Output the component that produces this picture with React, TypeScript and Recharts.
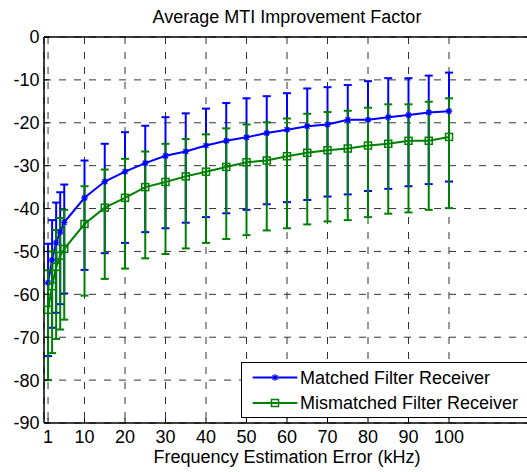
import React from 'react';
import { LineChart, Line, XAxis, YAxis, CartesianGrid, ErrorBar, Legend } from 'recharts';

// Frequency estimation error (kHz)
const freqKHz = [1, 2, 3, 4, 5, 10, 15, 20, 25, 30, 35, 40, 45, 50, 55, 60, 65, 70, 75, 80, 85, 90, 95, 100];

// Matched filter receiver: mean improvement factor (dB) and its error-bar bounds
const matchedMean = [-57.3, -52.0, -48.0, -45.5, -43.2, -37.5, -33.7, -31.4, -29.4, -27.7, -26.7, -25.3, -24.2, -23.4, -22.4, -21.6, -20.8, -20.4, -19.3, -19.3, -18.7, -18.2, -17.6, -17.3];
const matchedUpper = [-48.2, -42.7, -38.6, -36.2, -34.4, -28.8, -24.9, -22.2, -20.7, -18.7, -17.8, -16.7, -15.4, -14.3, -13.8, -13.1, -12.0, -11.7, -11.2, -10.3, -9.6, -9.6, -9.0, -8.3];
const matchedLower = [-74.4, -67.8, -64.3, -62.3, -59.8, -54.3, -50.4, -48.0, -45.5, -44.6, -43.3, -42.0, -41.1, -40.3, -39.0, -38.5, -38.0, -37.2, -36.7, -35.9, -35.4, -34.8, -34.3, -33.7];

// Mismatched filter receiver: mean improvement factor (dB) and its error-bar bounds
const mismatchedMean = [-63.6, -58.1, -53.6, -51.0, -49.4, -43.6, -39.8, -37.5, -35.0, -33.8, -32.5, -31.4, -30.3, -29.2, -28.8, -27.8, -27.0, -26.4, -26.0, -25.3, -24.9, -24.2, -24.2, -23.3];
const mismatchedUpper = [-54.4, -50.0, -45.0, -42.2, -40.3, -34.8, -30.9, -28.4, -26.7, -24.9, -23.8, -22.7, -21.3, -20.4, -19.9, -19.0, -17.9, -17.5, -17.2, -16.5, -15.7, -15.7, -15.1, -14.3];
const mismatchedLower = [-80.0, -73.7, -70.4, -68.2, -65.9, -60.3, -56.4, -54.0, -51.6, -50.6, -49.3, -48.0, -47.1, -46.2, -45.1, -44.6, -43.7, -43.0, -42.7, -42.0, -41.2, -40.9, -40.3, -39.9];

const xTicks = [1, 10, 20, 30, 40, 50, 60, 70, 80, 90, 100];
const yTicks = [-90, -80, -70, -60, -50, -40, -30, -20, -10, 0];

const seriesNames = ['Matched Filter Receiver', 'Mismatched Filter Receiver'];
const chartTitle = 'Average MTI Improvement Factor';
const xLabel = 'Frequency Estimation Error (kHz)';

const BLUE = '#0000ff';
const GREEN = '#008000';
const FONT = '"Liberation Sans", Arial, Helvetica, sans-serif';
const FS = 18;

const data = freqKHz.map((f, i) => ({
  f,
  matched: matchedMean[i],
  matchedErr: [matchedMean[i] - matchedLower[i], matchedUpper[i] - matchedMean[i]],
  mismatched: mismatchedMean[i],
  mismatchedErr: [mismatchedMean[i] - mismatchedLower[i], mismatchedUpper[i] - mismatchedMean[i]],
}));

const starPath = (cx: number, cy: number) => {
  const r = 3.3;
  const d = 2.4;
  return `M${cx - r},${cy}H${cx + r}M${cx},${cy - r}V${cy + r}M${cx - d},${cy - d}L${cx + d},${cy + d}M${cx - d},${cy + d}L${cx + d},${cy - d}`;
};

const StarDot = (props: any) => {
  const { cx, cy, index } = props;
  if (cx == null || cy == null) return <g key={`s-${index}`} />;
  return <path key={`s-${index}`} d={starPath(cx, cy)} stroke={BLUE} strokeWidth={1.3} fill="none" />;
};

const SquareDot = (props: any) => {
  const { cx, cy, index } = props;
  if (cx == null || cy == null) return <g key={`q-${index}`} />;
  return (
    <rect key={`q-${index}`} x={cx - 3.5} y={cy - 3.5} width={7} height={7} stroke={GREEN} strokeWidth={1.5} fill="none" />
  );
};

const LegendBox = () => (
  <svg width={300} height={56} style={{ display: 'block', fontFamily: FONT }}>
    <rect x={0.5} y={0.5} width={320} height={55} fill="#ffffff" stroke="#000000" strokeWidth={1} />
    <line x1={11.7} x2={56.3} y1={15.5} y2={15.5} stroke={BLUE} strokeWidth={2} />
    <path d={starPath(34, 15.5)} stroke={BLUE} strokeWidth={1.3} fill="none" />
    <text x={59} y={21.8} fontSize={FS} fill="#000">{seriesNames[0]}</text>
    <line x1={11.7} x2={56.3} y1={41} y2={41} stroke={GREEN} strokeWidth={2} />
    <rect x={30.5} y={37.5} width={7} height={7} stroke={GREEN} strokeWidth={1.5} fill="none" />
    <text x={59} y={47.3} fontSize={FS} fill="#000">{seriesNames[1]}</text>
  </svg>
);

const tickStyle = { fontSize: FS, fill: '#000', fontFamily: FONT };

export default function App() {
  return (
    <div style={{ position: 'absolute', left: 0, top: 0, width: 527, height: 472, overflow: 'hidden', background: '#fff' }}>
      <LineChart
        width={530}
        height={472}
        data={data}
        margin={{ top: 36, right: 0, bottom: 0, left: 0 }}
        style={{ fontFamily: FONT }}
      >
        <CartesianGrid stroke="#333" strokeDasharray="7 8" strokeWidth={1} />
        <XAxis
          dataKey="f"
          type="number"
          domain={[0, 120]}
          ticks={xTicks}
          allowDataOverflow
          height={49}
          tickSize={-5}
          tickMargin={12.7}
          tick={tickStyle}
          axisLine={{ stroke: '#000', strokeWidth: 1.5 }}
          tickLine={{ stroke: '#000' }}
          label={{ value: xLabel, position: 'insideBottom', offset: 8.7, fontSize: FS, fill: '#000' }}
        />
        <XAxis
          xAxisId="top"
          orientation="top"
          type="number"
          domain={[0, 120]}
          ticks={xTicks}
          allowDataOverflow
          height={1}
          tickSize={-5}
          tick={false}
          axisLine={{ stroke: '#000', strokeWidth: 1.5 }}
          tickLine={{ stroke: '#000' }}
          label={{ value: chartTitle, position: 'top', offset: 13.3, fontSize: FS, fill: '#000' }}
        />
        <YAxis
          type="number"
          domain={[-90, 0]}
          ticks={yTicks}
          allowDataOverflow
          width={44}
          tickSize={-5}
          tickMargin={9.5}
          tick={tickStyle}
          axisLine={{ stroke: '#000', strokeWidth: 1.5 }}
          tickLine={{ stroke: '#000' }}
        />
        <Legend
          layout="vertical"
          align="center"
          verticalAlign="middle"
          content={() => <LegendBox />}
          wrapperStyle={{ position: 'absolute', left: 241, top: 362, width: 300, height: 56 }}
        />
        <Line
          dataKey="matched"
          name={seriesNames[0]}
          stroke={BLUE}
          strokeWidth={2}
          dot={(p: any) => <StarDot key={`sd-${p.index}`} {...p} />}
          isAnimationActive={false}
        >
          <ErrorBar dataKey="matchedErr" direction="y" width={4} stroke={BLUE} strokeWidth={2} isAnimationActive={false} />
        </Line>
        <Line
          dataKey="mismatched"
          name={seriesNames[1]}
          stroke={GREEN}
          strokeWidth={2}
          dot={(p: any) => <SquareDot key={`qd-${p.index}`} {...p} />}
          isAnimationActive={false}
        >
          <ErrorBar dataKey="mismatchedErr" direction="y" width={4} stroke={GREEN} strokeWidth={2} isAnimationActive={false} />
        </Line>
      </LineChart>
    </div>
  );
}
